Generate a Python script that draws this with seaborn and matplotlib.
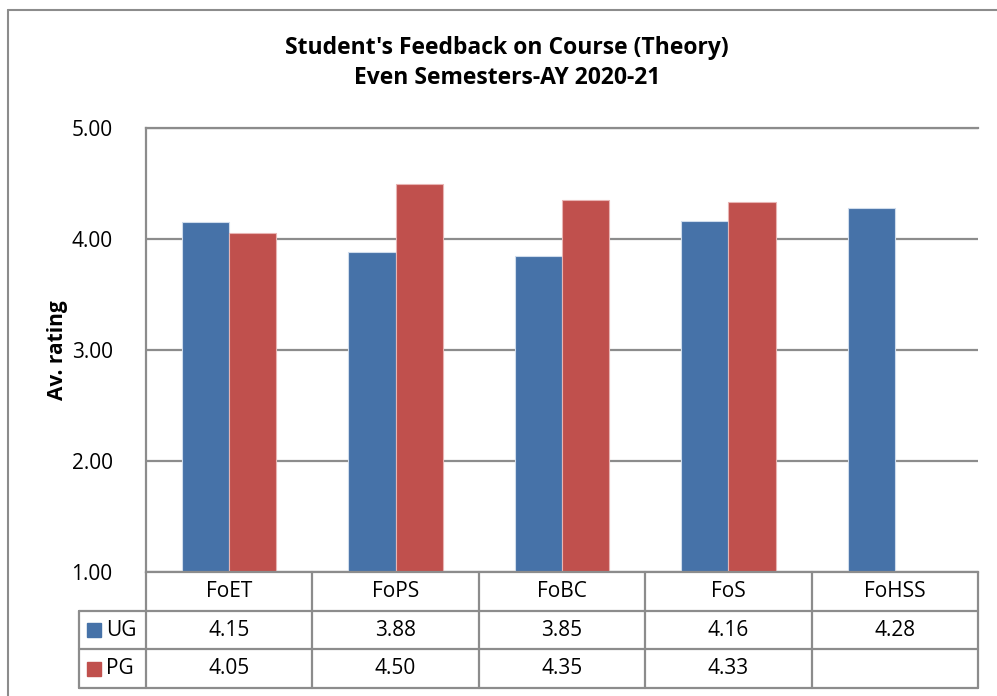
import pandas as pd
import matplotlib.pyplot as plt
import seaborn as sns
from matplotlib.patches import Rectangle
from matplotlib.lines import Line2D

# Data.
faculties = ['FoET', 'FoPS', 'FoBC', 'FoS', 'FoHSS']
ug = [4.15, 3.88, 3.85, 4.16, 4.28]
pg = [4.05, 4.50, 4.35, 4.33, None]
series = ['UG', 'PG']
colors = ['#4672A8', '#C0504D']

rows = []
for f, u, p in zip(faculties, ug, pg):
    rows.append({'faculty': f, 'level': 'UG', 'rating': u})
    rows.append({'faculty': f, 'level': 'PG', 'rating': p})
df = pd.DataFrame(rows)

sns.set_style('white')
plt.rcParams['font.family'] = ['Open Sans', 'DejaVu Sans']
plt.rcParams['text.color'] = 'black'
plt.rcParams['axes.labelcolor'] = 'black'
plt.rcParams['ytick.color'] = 'black'
fs = 15

W, H = 997, 696
fig = plt.figure(figsize=(W / 100, H / 100), dpi=100)


def fx(px):
    return px / W


def fy(py):
    return 1 - py / H


# Plot area in pixels.
left, right, top, bottom = 146, 978, 128, 572
ax = fig.add_axes([fx(left), fy(bottom), fx(right - left), (bottom - top) / H])

sns.barplot(data=df, x='faculty', y='rating', hue='level', order=faculties,
            hue_order=series, palette=colors, width=0.567, saturation=1,
            ax=ax, legend=False)
for bar in ax.patches:
    bar.set_linewidth(0.8)
    bar.set_edgecolor('#cfdcec' if bar.get_facecolor()[2] > 0.5 else '#e8b4b3')

ax.set_ylim(1, 5)
ax.set_xlim(-0.5, len(faculties) - 0.5)
ax.set_yticks([1, 2, 3, 4, 5])
ax.set_yticklabels([f'{v:.2f}' for v in [1, 2, 3, 4, 5]], fontsize=fs)
ax.tick_params(axis='y', length=0, pad=24)
ax.set_xticks([])
ax.set_xlabel('')
ax.set_ylabel('Av. rating', fontsize=fs, fontweight='bold')
ax.yaxis.set_label_coords((68 - left) / (right - left), 0.5)
ax.yaxis.grid(True, color='#8c8c8c', linewidth=1.6)
ax.set_axisbelow(True)
for side in ['left', 'top', 'bottom']:
    ax.spines[side].set_color('#8c8c8c')
    ax.spines[side].set_linewidth(1.6)
ax.spines['right'].set_visible(False)

# Title.
fig.text(fx(507), fy(48), "Student's Feedback on Course (Theory)", ha='center',
         va='center', fontsize=16.5, fontweight='bold')
fig.text(fx(507), fy(78), 'Even Semesters-AY 2020-21', ha='center',
         va='center', fontsize=16.5, fontweight='bold')

# Data table under the axis.
gc = '#8c8c8c'
row_y = [572, 611, 649, 688]
col_w = (right - left) / len(faculties)
col_x = [left + i * col_w for i in range(len(faculties) + 1)]
for y in row_y[1:]:
    fig.add_artist(Line2D([fx(79), fx(right)], [fy(y), fy(y)], color=gc, lw=1.6))
fig.add_artist(Line2D([fx(79), fx(79)], [fy(611), fy(688)], color=gc, lw=1.6))
for x in col_x:
    fig.add_artist(Line2D([fx(x), fx(x)], [fy(572), fy(688)], color=gc, lw=1.6))

for i, f in enumerate(faculties):
    cx = fx(col_x[i] + col_w / 2)
    fig.text(cx, fy((row_y[0] + row_y[1]) / 2), f, ha='center', va='center', fontsize=fs)
    for r, vals in enumerate([ug, pg]):
        v = vals[i]
        if v is not None:
            fig.text(cx, fy((row_y[r + 1] + row_y[r + 2]) / 2), f'{v:.2f}',
                     ha='center', va='center', fontsize=fs)

for r, (name, c) in enumerate(zip(series, colors)):
    yc = (row_y[r + 1] + row_y[r + 2]) / 2
    fig.add_artist(Rectangle((fx(87), fy(yc + 7)), fx(14), 14 / H, color=c))
    fig.text(fx(106), fy(yc), name, ha='left', va='center', fontsize=fs)

# Outer chart border.
fig.add_artist(Line2D([fx(8), fx(8)], [fy(10), 0], color='#8c8c8c', lw=1.5))
fig.add_artist(Line2D([fx(8), 1], [fy(10), fy(10)], color='#8c8c8c', lw=1.5))

fig.savefig('out.png', dpi=100)
